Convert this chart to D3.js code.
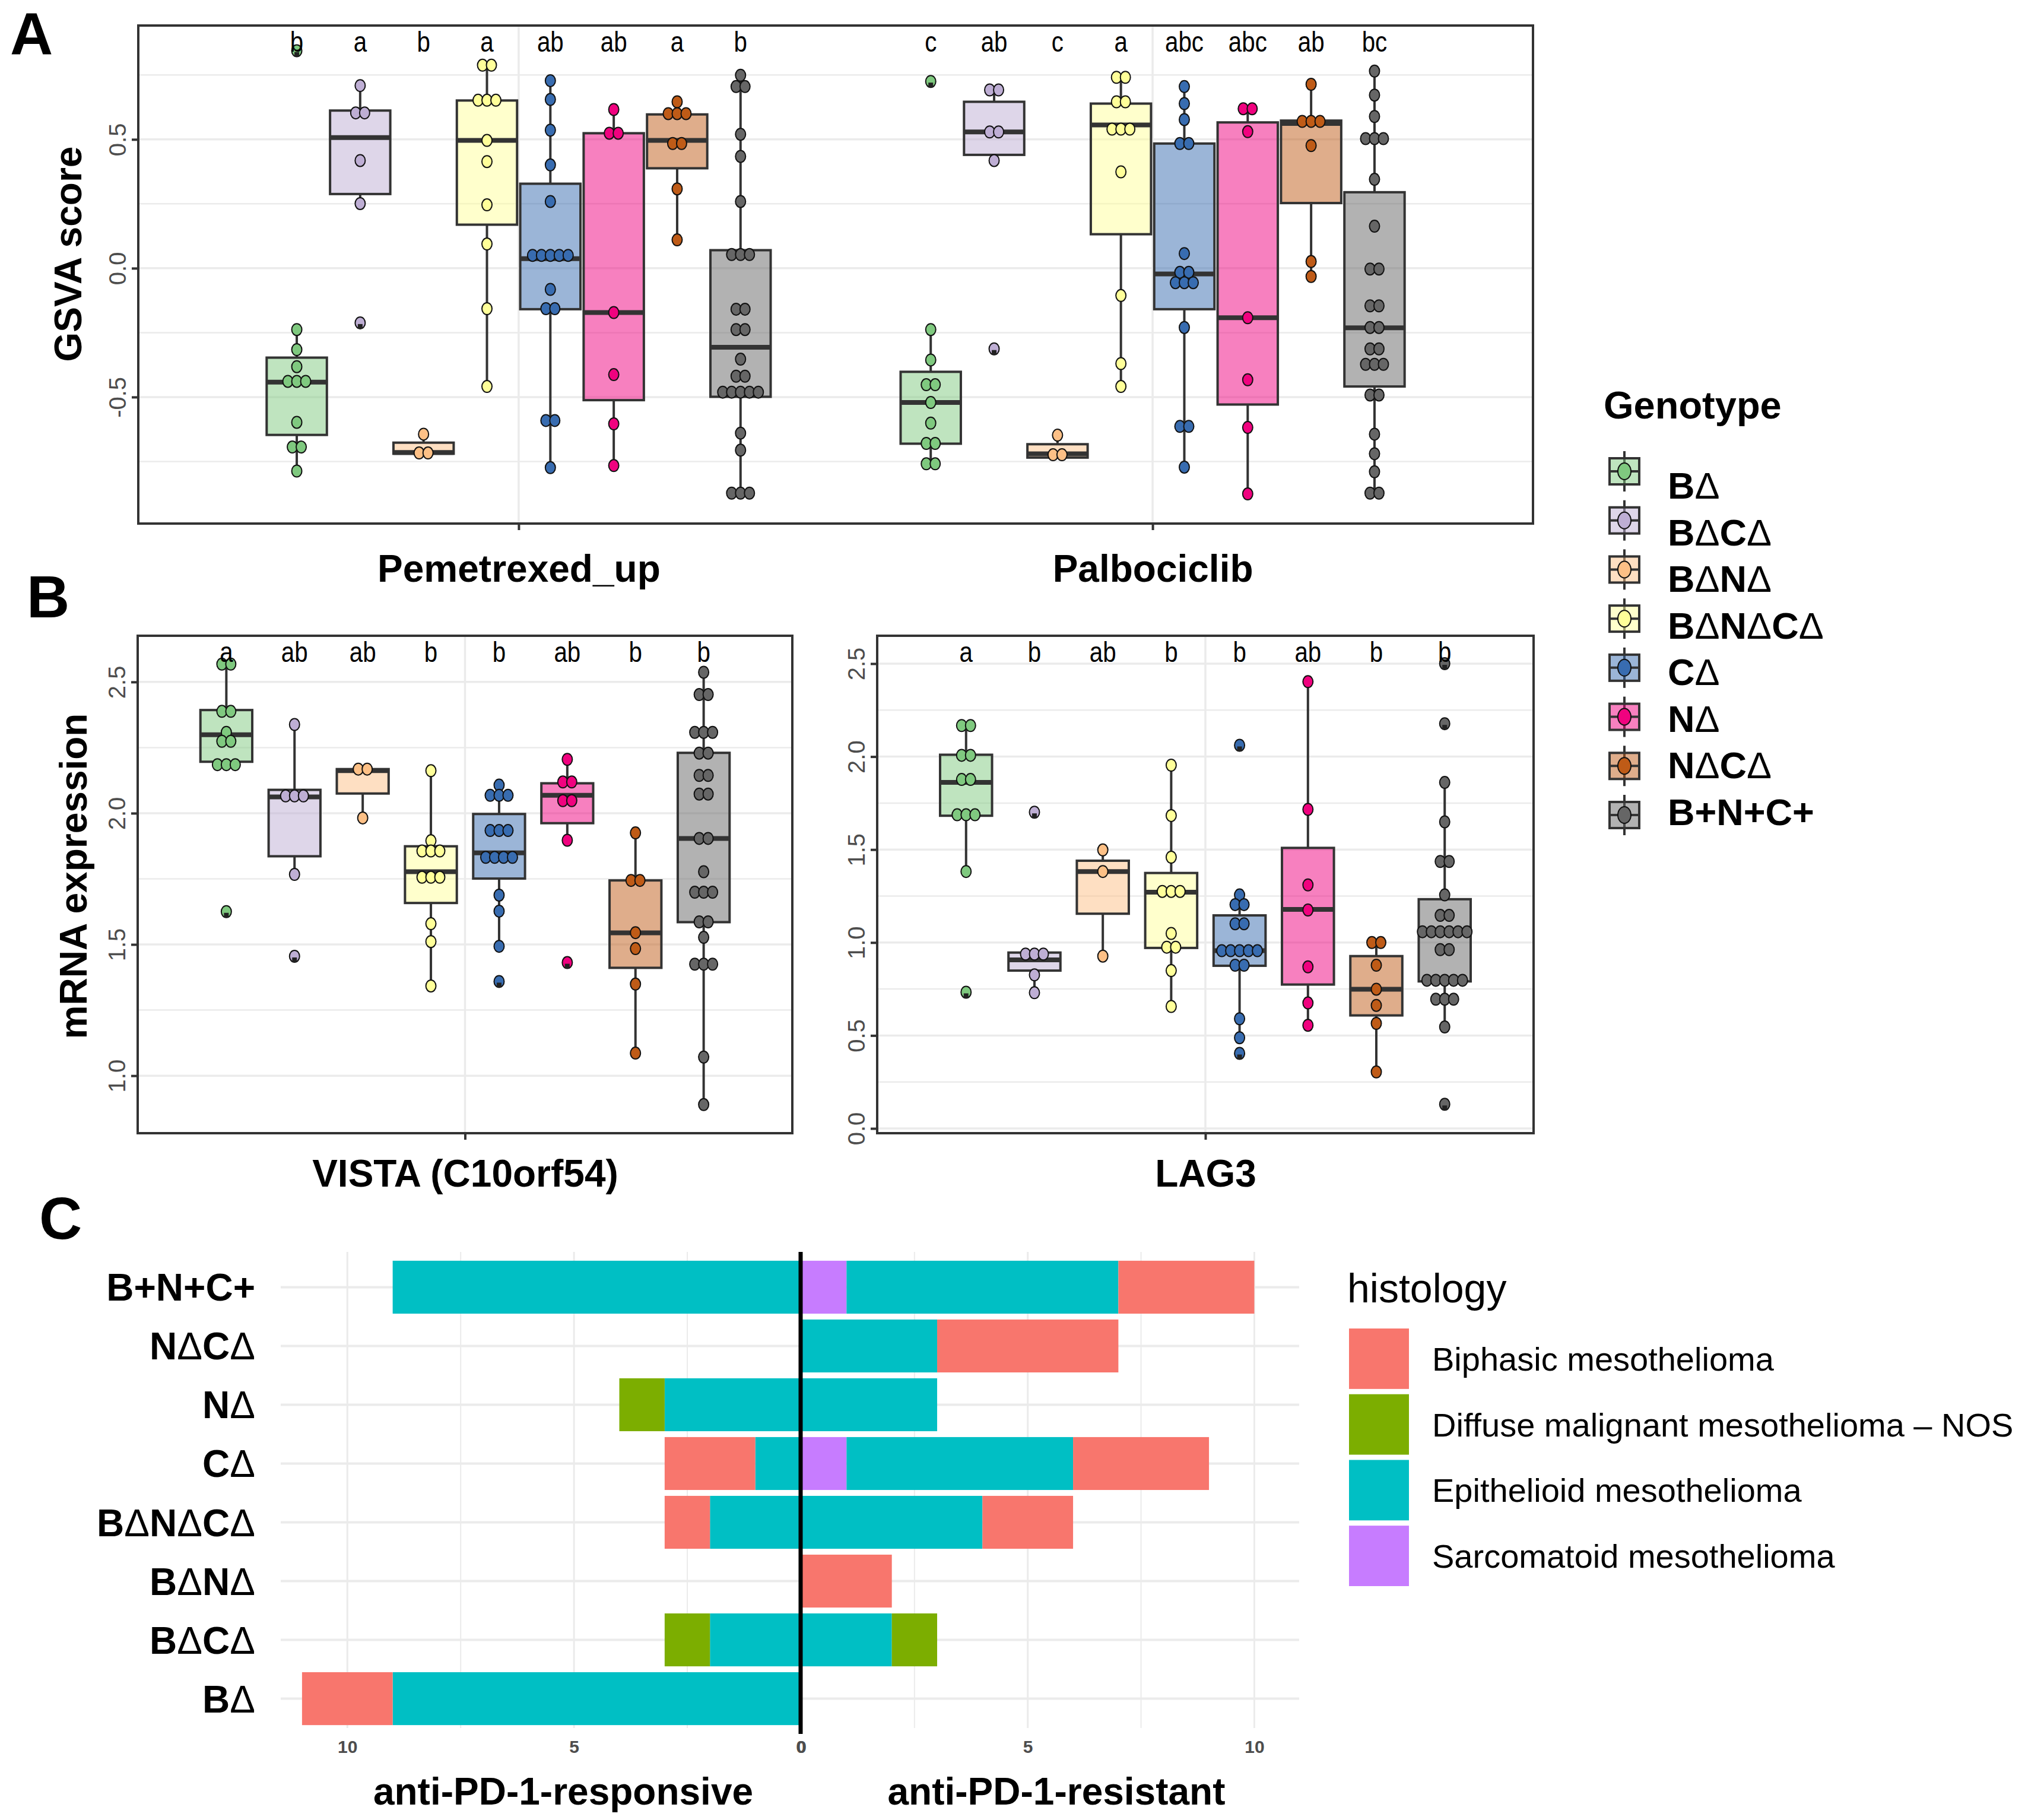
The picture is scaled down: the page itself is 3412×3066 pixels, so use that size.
<!DOCTYPE html>
<html>
<head>
<meta charset="utf-8">
<script src="https://cdn.jsdelivr.net/npm/d3@7"></script>
<style>
  body { margin: 0; background: #fff; }
  text { font-family: "Liberation Sans", Arial, Helvetica, sans-serif; }
</style>
</head>
<body>
<div id="fig"></div>
<script>
"use strict";

const width = 3412,
      height = 3066;

// ---- data ----
const genotypes = ["BΔ", "BΔCΔ", "BΔNΔ", "BΔNΔCΔ", "CΔ", "NΔ", "NΔCΔ", "B+N+C+"];
const genoColors = ["#7FC97F", "#BEAED4", "#FDC086", "#FFFF99", "#386CB0", "#F0027F", "#BF5B17", "#666666"];

const drugGroups = ["Pemetrexed_up", "Palbociclib"];

// [lower whisker, q1, median, q3, upper whisker]
const pemBoxes = [
  [-0.787, -0.647, -0.442, -0.347, -0.238],
  [0.251, 0.288, 0.507, 0.612, 0.709],
  [-0.717, -0.72, -0.715, -0.677, -0.644],
  [-0.459, 0.169, 0.496, 0.651, 0.788],
  [-0.774, -0.159, 0.037, 0.328, 0.728],
  [-0.766, -0.512, -0.172, 0.524, 0.616],
  [0.11, 0.388, 0.496, 0.597, 0.646],
  [-0.873, -0.499, -0.307, 0.07, 0.749]
];
const pemDots = [
  [0.844, -0.238, -0.316, -0.382, -0.439, -0.439, -0.439, -0.598, -0.694, -0.694, -0.787],
  [0.709, 0.603, 0.603, 0.418, 0.251, -0.212],
  [-0.644, -0.717, -0.717],
  [0.788, 0.788, 0.652, 0.652, 0.652, 0.496, 0.414, 0.246, 0.094, -0.157, -0.459],
  [0.728, 0.655, 0.536, 0.401, 0.259, 0.05, 0.05, 0.05, 0.05, 0.05, -0.082, -0.157, -0.157, -0.591, -0.591, -0.774],
  [0.616, 0.524, 0.524, -0.172, -0.413, -0.604, -0.766],
  [0.646, 0.6, 0.6, 0.6, 0.484, 0.484, 0.308, 0.11],
  [0.749, 0.705, 0.705, 0.52, 0.434, 0.259, 0.053, 0.053, 0.053, -0.159, -0.159, -0.238, -0.238, -0.353,
   -0.419, -0.419, -0.481, -0.481, -0.481, -0.481, -0.481, -0.64, -0.706, -0.873, -0.873, -0.873]
];
const pemOutliers = [[0.844], [-0.212], [], [], [], [], [], []];
const pemLetters = ["b", "a", "b", "a", "ab", "ab", "a", "b"];

const palbBoxes = [
  [-0.759, -0.681, -0.521, -0.402, -0.238],
  [0.418, 0.44, 0.529, 0.646, 0.692],
  [-0.724, -0.735, -0.72, -0.683, -0.648],
  [-0.459, 0.132, 0.556, 0.639, 0.741],
  [-0.772, -0.159, -0.022, 0.484, 0.705],
  [-0.876, -0.529, -0.192, 0.566, 0.619],
  [-0.032, 0.253, 0.562, 0.573, 0.714],
  [-0.873, -0.459, -0.231, 0.295, 0.765]
];
const palbDots = [
  [0.725, -0.238, -0.356, -0.452, -0.452, -0.521, -0.601, -0.68, -0.68, -0.759, -0.759],
  [0.692, 0.692, 0.529, 0.529, 0.418, -0.313],
  [-0.648, -0.724, -0.724],
  [0.741, 0.741, 0.646, 0.646, 0.54, 0.54, 0.54, 0.374, -0.106, -0.37, -0.459],
  [0.705, 0.639, 0.577, 0.484, 0.484, 0.057, -0.016, -0.016, -0.056, -0.056, -0.056, -0.23, -0.614, -0.614, -0.772],
  [0.619, 0.619, 0.53, -0.192, -0.433, -0.618, -0.876],
  [0.714, 0.57, 0.57, 0.57, 0.476, 0.026, -0.032],
  [0.765, 0.672, 0.589, 0.503, 0.503, 0.503, 0.345, 0.163, -0.003, -0.003, -0.146, -0.146, -0.23, -0.23,
   -0.313, -0.313, -0.373, -0.373, -0.373, -0.492, -0.492, -0.644, -0.72, -0.79, -0.873, -0.873]
];
const palbOutliers = [[0.725], [-0.313], [], [], [], [], [], []];
const palbLetters = ["c", "ab", "c", "a", "abc", "abc", "ab", "bc"];

const vistaBoxes = [
  [2.185, 2.196, 2.299, 2.393, 2.568],
  [1.767, 1.836, 2.062, 2.089, 2.338],
  [1.982, 2.075, 2.162, 2.168, 2.168],
  [1.342, 1.658, 1.777, 1.874, 2.162],
  [1.493, 1.751, 1.849, 1.997, 2.107],
  [1.897, 1.962, 2.068, 2.114, 2.205],
  [1.086, 1.411, 1.544, 1.744, 1.925],
  [0.89, 1.585, 1.904, 2.23, 2.537]
];
const vistaDots = [
  [2.568, 2.568, 2.388, 2.388, 2.308, 2.274, 2.274, 2.185, 2.185, 2.185, 1.625],
  [2.338, 2.066, 2.066, 2.066, 1.767, 1.455],
  [2.168, 2.168, 1.982],
  [2.162, 1.895, 1.856, 1.856, 1.856, 1.756, 1.756, 1.756, 1.579, 1.511, 1.342],
  [2.107, 2.068, 2.068, 2.068, 1.934, 1.934, 1.934, 1.832, 1.832, 1.832, 1.832, 1.688, 1.627, 1.493, 1.359],
  [2.205, 2.119, 2.119, 2.048, 2.048, 1.897, 1.431],
  [1.925, 1.744, 1.744, 1.545, 1.484, 1.349, 1.086],
  [2.537, 2.452, 2.452, 2.308, 2.308, 2.308, 2.229, 2.229, 2.144, 2.144, 2.073, 2.073, 1.904, 1.904,
   1.777, 1.699, 1.699, 1.699, 1.586, 1.586, 1.527, 1.425, 1.425, 1.425, 1.071, 0.89]
];
const vistaOutliers = [[1.625], [1.455], [], [], [1.359], [1.431], [], []];
const vistaLetters = ["a", "ab", "ab", "b", "b", "ab", "b", "b"];

const lag3Boxes = [
  [1.382, 1.682, 1.861, 2.01, 2.167],
  [0.73, 0.849, 0.907, 0.946, 0.946],
  [0.927, 1.155, 1.382, 1.44, 1.498],
  [0.656, 0.971, 1.271, 1.374, 1.954],
  [0.488, 0.875, 0.956, 1.146, 1.256],
  [0.555, 0.774, 1.178, 1.509, 2.403],
  [0.304, 0.608, 0.749, 0.927, 1.0],
  [0.546, 0.791, 1.058, 1.233, 1.861]
];
const lag3Dots = [
  [2.167, 2.167, 2.007, 2.007, 1.877, 1.877, 1.687, 1.687, 1.687, 1.382, 0.733],
  [1.701, 0.938, 0.938, 0.938, 0.826, 0.73],
  [1.498, 1.382, 0.927],
  [1.954, 1.683, 1.459, 1.275, 1.275, 1.275, 1.049, 0.975, 0.975, 0.849, 0.656],
  [2.061, 1.256, 1.204, 1.204, 1.101, 1.101, 0.956, 0.956, 0.956, 0.956, 0.956, 0.878, 0.878, 0.59, 0.488, 0.404],
  [2.403, 1.716, 1.31, 1.175, 0.869, 0.675, 0.555],
  [1.0, 1.0, 0.878, 0.749, 0.662, 0.565, 0.304],
  [2.5, 2.177, 1.861, 1.649, 1.436, 1.436, 1.256, 1.146, 1.146, 1.058, 1.058, 1.058, 1.058, 1.058, 1.058,
   0.962, 0.962, 0.797, 0.797, 0.797, 0.797, 0.797, 0.695, 0.695, 0.695, 0.546, 0.13]
];
const lag3Outliers = [[0.733], [1.701], [], [], [2.061, 0.404], [], [], [2.5, 2.177, 0.13]];
const lag3Letters = ["a", "b", "ab", "b", "b", "ab", "b", "b"];

// panel C: patient counts by histology
const histCategories = ["B+N+C+", "NΔCΔ", "NΔ", "CΔ", "BΔNΔCΔ", "BΔNΔ", "BΔCΔ", "BΔ"];
const histTypes = ["Biphasic mesothelioma", "Diffuse malignant mesothelioma – NOS",
                   "Epithelioid mesothelioma", "Sarcomatoid mesothelioma"];
const histColors = ["#F8766D", "#7CAE00", "#00BFC4", "#C77CFF"];

const respBiphasic    = [0, 0, 0, 2, 1, 0, 0, 2];
const respDiffuse     = [0, 0, 1, 0, 0, 0, 1, 0];
const respEpithelioid = [9, 0, 3, 1, 2, 0, 2, 9];
const respSarcomatoid = [0, 0, 0, 0, 0, 0, 0, 0];

const resBiphasic    = [3, 4, 0, 3, 2, 2, 0, 0];
const resDiffuse     = [0, 0, 0, 0, 0, 0, 1, 0];
const resEpithelioid = [6, 3, 3, 5, 4, 0, 2, 0];
const resSarcomatoid = [1, 0, 0, 1, 0, 0, 0, 0];

const countTicks = [0, 5, 10];
const countMinor = [2.5, 7.5];

// ---- drawing ----
const svg = d3.select("#fig")
  .append("svg")
  .attr("width", width)
  .attr("height", height)
  .style("background", "#fff");

svg.append("rect").attr("width", width).attr("height", height).attr("fill", "#fff");

// bold text with a thin delta, as in the figure
function addLabel(sel, label, weight) {
  label.split(/(Δ)/).filter(s => s.length).forEach(part => {
    sel.append("tspan")
      .attr("font-weight", part === "Δ" ? 400 : weight)
      .text(part);
  });
}

const fmt = d => d.toFixed(1);

function boxPanel(p) {
  const g = svg.append("g");

  const x = d3.scalePoint()
    .domain(p.groups)
    .range([p.left, p.right])
    .padding(0.6);
  const step = x.step();

  const dodge = d3.scaleBand()
    .domain(genotypes)
    .range([-p.dodge * step / 2, p.dodge * step / 2]);
  const bw = 0.095 * step;

  const y = d3.scaleLinear()
    .domain(p.domain)
    .range([p.bottom, p.top]);

  // grid
  g.selectAll(".minor")
    .data(p.minor)
    .join("line")
      .attr("x1", p.left).attr("x2", p.right)
      .attr("y1", d => y(d)).attr("y2", d => y(d))
      .attr("stroke", "#EBEBEB")
      .attr("stroke-width", 2.5);
  g.selectAll(".major")
    .data(p.major)
    .join("line")
      .attr("x1", p.left).attr("x2", p.right)
      .attr("y1", d => y(d)).attr("y2", d => y(d))
      .attr("stroke", "#EBEBEB")
      .attr("stroke-width", 3.5);
  g.selectAll(".vgrid")
    .data(p.groups)
    .join("line")
      .attr("x1", d => x(d)).attr("x2", d => x(d))
      .attr("y1", p.top).attr("y2", p.bottom)
      .attr("stroke", "#EBEBEB")
      .attr("stroke-width", 3.5);

  const centre = (grp, geno) => x(grp) + dodge(geno) + dodge.bandwidth() / 2;

  // boxes
  p.groups.forEach((grp, gi) => {
    genotypes.forEach((geno, i) => {
      const cx = centre(grp, geno);
      const [lo, q1, med, q3, hi] = p.boxes[gi][i];
      g.append("line")
        .attr("x1", cx).attr("x2", cx)
        .attr("y1", y(hi)).attr("y2", y(q3))
        .attr("stroke", "#333").attr("stroke-width", 4);
      g.append("line")
        .attr("x1", cx).attr("x2", cx)
        .attr("y1", y(q1)).attr("y2", y(lo))
        .attr("stroke", "#333").attr("stroke-width", 4);
      g.append("rect")
        .attr("x", cx - bw / 2)
        .attr("y", y(q3))
        .attr("width", bw)
        .attr("height", Math.max(2, y(q1) - y(q3)))
        .attr("fill", genoColors[i])
        .attr("fill-opacity", 0.5)
        .attr("stroke", "#333")
        .attr("stroke-width", 4);
      g.append("line")
        .attr("x1", cx - bw / 2).attr("x2", cx + bw / 2)
        .attr("y1", y(med)).attr("y2", y(med))
        .attr("stroke", "#333").attr("stroke-width", 8);
    });
  });

  // stacked dots
  p.groups.forEach((grp, gi) => {
    genotypes.forEach((geno, i) => {
      const cx = centre(grp, geno);
      const bins = d3.rollups(p.dots[gi][i], v => v.length, d => d);
      bins.forEach(([v, k]) => {
        d3.range(k).forEach(j => {
          g.append("ellipse")
            .attr("cx", cx + (j - (k - 1) / 2) * 15)
            .attr("cy", y(v))
            .attr("rx", 8.5)
            .attr("ry", 10)
            .attr("fill", genoColors[i])
            .attr("stroke", "#111")
            .attr("stroke-width", 2);
        });
      });
      p.outliers[gi][i].forEach(v => {
        g.append("rect")
          .attr("x", cx - 4)
          .attr("y", y(v) + 2)
          .attr("width", 8)
          .attr("height", 8)
          .attr("fill", "#222");
      });
    });
  });

  // significance letters (narrow, as in the figure)
  p.groups.forEach((grp, gi) => {
    genotypes.forEach((geno, i) => {
      g.append("text")
        .attr("transform", `translate(${centre(grp, geno)},${p.top + 44}) scale(0.84,1)`)
        .attr("text-anchor", "middle")
        .attr("font-size", 48)
        .text(p.letters[gi][i]);
    });
  });

  // border
  g.append("rect")
    .attr("x", p.left).attr("y", p.top)
    .attr("width", p.right - p.left)
    .attr("height", p.bottom - p.top)
    .attr("fill", "none")
    .attr("stroke", "#333")
    .attr("stroke-width", 4);

  // y axis
  const ga = svg.append("g")
    .attr("transform", `translate(${p.left},0)`)
    .call(d3.axisLeft(y).tickValues(p.major).tickSize(11).tickFormat(fmt));
  ga.select(".domain").remove();
  ga.selectAll(".tick line").attr("stroke", "#333").attr("stroke-width", 4);
  ga.selectAll(".tick text")
    .attr("x", 0)
    .attr("dy", 0)
    .attr("transform", "translate(-21,0) rotate(-90)")
    .attr("text-anchor", "middle")
    .attr("fill", "#4D4D4D")
    .attr("font-size", 40)
    .attr("font-family", "DejaVu Sans");

  // x axis
  const gx = svg.append("g")
    .attr("transform", `translate(0,${p.bottom})`)
    .call(d3.axisBottom(x).tickSize(11));
  gx.select(".domain").remove();
  gx.selectAll(".tick line").attr("stroke", "#333").attr("stroke-width", 4);
  gx.selectAll(".tick text")
    .attr("y", p.labelOffset)
    .attr("dy", 0)
    .attr("fill", "#000")
    .attr("font-size", 64)
    .attr("font-weight", 700)
    .attr("font-family", "Liberation Sans, Arial, sans-serif");

  // y title
  if (p.yTitle) {
    svg.append("text")
      .attr("transform", `translate(${p.yTitleX},${p.yTitleY}) rotate(-90)`)
      .attr("text-anchor", "middle")
      .attr("font-size", 64)
      .attr("font-weight", 700)
      .text(p.yTitle);
  }
}

// panel A
boxPanel({
  groups: drugGroups,
  boxes: [pemBoxes, palbBoxes],
  dots: [pemDots, palbDots],
  outliers: [pemOutliers, palbOutliers],
  letters: [pemLetters, palbLetters],
  left: 233, right: 2583, top: 43, bottom: 882,
  domain: [-0.991, 0.942],
  major: [-0.5, 0, 0.5],
  minor: [-0.75, -0.25, 0.25, 0.75],
  dodge: 0.8,
  labelOffset: 98,
  yTitle: "GSVA score", yTitleX: 137, yTitleY: 428
});

// panel B, VISTA
boxPanel({
  groups: ["VISTA (C10orf54)"],
  boxes: [vistaBoxes],
  dots: [vistaDots],
  outliers: [vistaOutliers],
  letters: [vistaLetters],
  left: 232, right: 1335, top: 1071, bottom: 1909,
  domain: [0.781, 2.676],
  major: [1, 1.5, 2, 2.5],
  minor: [1.25, 1.75, 2.25],
  dodge: 1.0,
  labelOffset: 90,
  yTitle: "mRNA expression", yTitleX: 146, yTitleY: 1476
});

// panel B, LAG3
boxPanel({
  groups: ["LAG3"],
  boxes: [lag3Boxes],
  dots: [lag3Dots],
  outliers: [lag3Outliers],
  letters: [lag3Letters],
  left: 1478, right: 2584, top: 1071, bottom: 1909,
  domain: [-0.0255, 2.65],
  major: [0, 0.5, 1, 1.5, 2, 2.5],
  minor: [0.25, 0.75, 1.25, 1.75, 2.25],
  dodge: 1.0,
  labelOffset: 90
});

// panel tags
[["A", 17, 92], ["B", 45, 1040], ["C", 66, 2087]].forEach(([t, tx, ty]) => {
  svg.append("text")
    .attr("x", tx).attr("y", ty)
    .attr("font-size", 100)
    .attr("font-weight", 700)
    .text(t);
});

// Genotype legend: keys and labels sit on slightly different pitches
const legY = d3.scalePoint().domain(genotypes).range([794, 1373]);
const legLabelY = d3.scalePoint().domain(genotypes).range([818, 1368]);
svg.append("text")
  .attr("x", 2702).attr("y", 705)
  .attr("font-size", 65)
  .attr("font-weight", 700)
  .text("Genotype");
const leg = svg.append("g")
  .selectAll("g")
  .data(genotypes)
  .join("g")
    .attr("transform", d => `translate(2737,${legY(d)})`);
leg.append("line")
  .attr("y1", -34).attr("y2", 34)
  .attr("stroke", "#333").attr("stroke-width", 4);
leg.append("rect")
  .attr("x", -25).attr("y", -22)
  .attr("width", 50).attr("height", 44)
  .attr("fill", (d, i) => genoColors[i])
  .attr("fill-opacity", 0.5)
  .attr("stroke", "#333")
  .attr("stroke-width", 4);
leg.append("line")
  .attr("x1", -25).attr("x2", 25)
  .attr("stroke", "#333").attr("stroke-width", 4);
leg.append("ellipse")
  .attr("rx", 11).attr("ry", 14)
  .attr("fill", (d, i) => genoColors[i])
  .attr("stroke", "#111").attr("stroke-width", 2);
svg.append("g")
  .selectAll("text")
  .data(genotypes)
  .join("text")
    .attr("x", 2810)
    .attr("y", d => legLabelY(d) + 22)
    .attr("font-size", 63)
    .each(function(d) { addLabel(d3.select(this), d, 700); });

// ---- panel C ----
const rows = d3.scaleBand()
  .domain(histCategories)
  .range([2109, 2921])
  .paddingInner(0.1)
  .paddingOuter(0.15);

const xResp = d3.scaleLinear().domain([0, 11.47]).range([1349, 473]);
const xRes = d3.scaleLinear().domain([0, 10.99]).range([1350, 2189]);

const gc = svg.append("g");

[xResp, xRes].forEach(xs => {
  gc.append("g").selectAll("line")
    .data(countMinor)
    .join("line")
      .attr("x1", d => xs(d)).attr("x2", d => xs(d))
      .attr("y1", 2109).attr("y2", 2911)
      .attr("stroke", "#EBEBEB").attr("stroke-width", 2);
  gc.append("g").selectAll("line")
    .data(countTicks.filter(d => d > 0))
    .join("line")
      .attr("x1", d => xs(d)).attr("x2", d => xs(d))
      .attr("y1", 2109).attr("y2", 2911)
      .attr("stroke", "#EBEBEB").attr("stroke-width", 3);
  gc.append("g").selectAll("line")
    .data(histCategories)
    .join("line")
      .attr("x1", xs.range()[0]).attr("x2", xs.range()[1])
      .attr("y1", d => rows(d) + rows.bandwidth() / 2)
      .attr("y2", d => rows(d) + rows.bandwidth() / 2)
      .attr("stroke", "#EBEBEB").attr("stroke-width", 4);
});

function countTable(bip, dif, epi, sar) {
  return histCategories.map((c, i) => ({
    cat: c,
    [histTypes[0]]: bip[i],
    [histTypes[1]]: dif[i],
    [histTypes[2]]: epi[i],
    [histTypes[3]]: sar[i]
  }));
}

// sarcomatoid sits next to zero, biphasic outermost
const stacker = d3.stack().keys([histTypes[3], histTypes[2], histTypes[1], histTypes[0]]);
const histColor = d3.scaleOrdinal().domain(histTypes).range(histColors);

[[xResp, countTable(respBiphasic, respDiffuse, respEpithelioid, respSarcomatoid)],
 [xRes, countTable(resBiphasic, resDiffuse, resEpithelioid, resSarcomatoid)]].forEach(([xs, table]) => {
  gc.append("g")
    .selectAll("g")
    .data(stacker(table))
    .join("g")
      .attr("fill", d => histColor(d.key))
    .selectAll("rect")
    .data(d => d.filter(s => s[1] > s[0]))
    .join("rect")
      .attr("x", s => Math.min(xs(s[0]), xs(s[1])))
      .attr("width", s => Math.abs(xs(s[1]) - xs(s[0])))
      .attr("y", s => rows(s.data.cat))
      .attr("height", rows.bandwidth());
});

gc.append("line")
  .attr("x1", xResp(0)).attr("x2", xResp(0))
  .attr("y1", 2109).attr("y2", 2921)
  .attr("stroke", "#000").attr("stroke-width", 7);

[xResp, xRes].forEach(xs => {
  const ax = svg.append("g")
    .attr("transform", "translate(0,2921)")
    .call(d3.axisBottom(xs).tickValues(countTicks).tickSize(0).tickFormat(d3.format("d")));
  ax.select(".domain").remove();
  ax.selectAll(".tick text")
    .attr("y", 32)
    .attr("dy", 0)
    .attr("fill", "#4D4D4D")
    .attr("font-size", 30)
    .attr("font-weight", 700)
    .attr("font-family", "DejaVu Sans");
});

// category labels
svg.append("g")
  .selectAll("text")
  .data(histCategories)
  .join("text")
    .attr("x", 430)
    .attr("y", d => rows(d) + rows.bandwidth() / 2 + 23)
    .attr("text-anchor", "end")
    .attr("font-size", 64)
    .each(function(d) { addLabel(d3.select(this), d, 700); });

svg.append("text")
  .attr("x", 949).attr("y", 3040)
  .attr("text-anchor", "middle")
  .attr("font-size", 64)
  .attr("font-weight", 700)
  .text("anti-PD-1-responsive");
svg.append("text")
  .attr("x", 1780).attr("y", 3040)
  .attr("text-anchor", "middle")
  .attr("font-size", 64)
  .attr("font-weight", 700)
  .text("anti-PD-1-resistant");

// histology legend
svg.append("text")
  .attr("x", 2270).attr("y", 2194)
  .attr("font-size", 68)
  .text("histology");
const keyY = d3.scaleBand().domain(histTypes).range([2238, 2672]).paddingInner(0.08);
const hl = svg.append("g")
  .selectAll("g")
  .data(histTypes)
  .join("g")
    .attr("transform", d => `translate(2273,${keyY(d)})`);
hl.append("rect")
  .attr("width", 101)
  .attr("height", keyY.bandwidth())
  .attr("fill", d => histColor(d));
hl.append("text")
  .attr("x", 140)
  .attr("y", keyY.bandwidth() / 2 + 20)
  .attr("font-size", 56)
  .text(d => d);
</script>
</body>
</html>
